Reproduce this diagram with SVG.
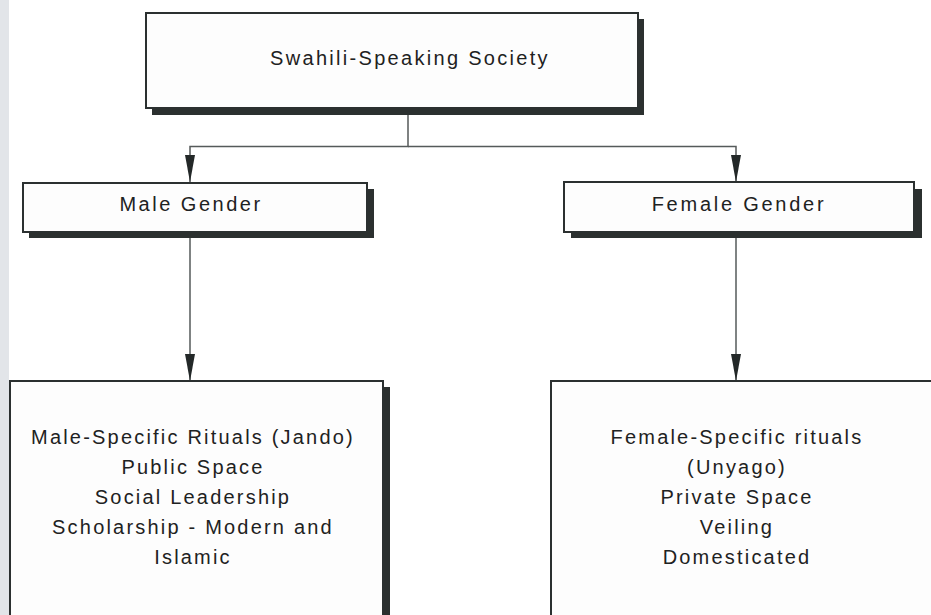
<svg xmlns="http://www.w3.org/2000/svg" width="931" height="615" viewBox="0 0 931 615">
<defs>
<style>
.box{fill:#fdfdfd;stroke:#2b3030;stroke-width:2}
.shadow{fill:#2b302f}
.t{font-family:"Liberation Sans",Arial,sans-serif;font-size:20px;fill:#1e2222;text-anchor:middle;letter-spacing:2.2px}
.c{fill:none;stroke:#555a5a;stroke-width:1.5}
</style>
<marker id="arr" markerUnits="userSpaceOnUse" markerWidth="28" markerHeight="11" refX="27" refY="5.5" orient="auto">
<path d="M0,0.5 L27,5.5 L0,10.5 z" fill="#232828"/>
</marker>
</defs>
<rect x="0" y="0" width="931" height="615" fill="#ffffff"/>
<rect x="0" y="0" width="9" height="615" fill="#e2e5e9"/>
<g id="connectors">
<path class="c" d="M408,109 V146.5 H190 V182" marker-end="url(#arr)"/>
<path class="c" d="M408,146.5 H736 V182" marker-end="url(#arr)"/>
<path class="c" d="M190,233 V381" marker-end="url(#arr)"/>
<path class="c" d="M736,233 V381" marker-end="url(#arr)"/>
</g>
<g id="society">
<rect class="shadow" x="152" y="19" width="492" height="96"/>
<rect class="box" x="146" y="13" width="492" height="95"/>
<text class="t" x="410" y="65" style="letter-spacing:2.3px">Swahili-Speaking Society</text>
</g>
<g id="male-gender">
<rect class="shadow" x="29" y="189" width="345" height="49"/>
<rect class="box" x="23" y="183" width="344" height="49"/>
<text class="t" x="191" y="211" style="letter-spacing:2.5px">Male Gender</text>
</g>
<g id="female-gender">
<rect class="shadow" x="571" y="189" width="351" height="49"/>
<rect class="box" x="564" y="182" width="350" height="50"/>
<text class="t" x="739" y="211" style="letter-spacing:2.75px">Female Gender</text>
</g>
<g id="male-traits">
<rect class="shadow" x="17" y="387" width="373" height="240"/>
<rect class="box" x="10" y="381" width="373" height="240"/>
<text class="t" x="193" y="444">Male-Specific Rituals (Jando)</text>
<text class="t" x="193" y="474">Public Space</text>
<text class="t" x="193" y="504">Social Leadership</text>
<text class="t" x="193" y="534">Scholarship - Modern and</text>
<text class="t" x="193" y="564">Islamic</text>
</g>
<g id="female-traits">
<rect class="shadow" x="558" y="387" width="400" height="240"/>
<rect class="box" x="551" y="381" width="400" height="240"/>
<text class="t" x="737" y="444">Female-Specific rituals</text>
<text class="t" x="737" y="474">(Unyago)</text>
<text class="t" x="737" y="504">Private Space</text>
<text class="t" x="737" y="534">Veiling</text>
<text class="t" x="737" y="564">Domesticated</text>
</g>
</svg>
